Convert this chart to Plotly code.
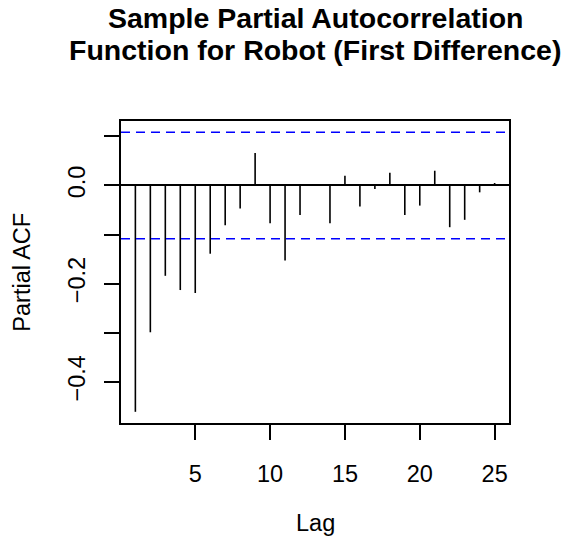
import plotly.graph_objects as go

# Data
lags = list(range(1, 26))
pacf = [-0.461, -0.299, -0.184, -0.213, -0.219, -0.139, -0.081, -0.047, 0.066, -0.077,
        -0.153, -0.060, 0.002, -0.077, 0.020, -0.043, -0.007, 0.026, -0.060, -0.041,
        0.030, -0.085, -0.070, -0.014, 0.005]
clim = 0.1085
x_ticks = [5, 10, 15, 20, 25]
y_ticks = [-0.4, -0.3, -0.2, -0.1, 0.0, 0.1]
y_ticktext = ["\u22120.4", "", "\u22120.2", "", "0.0", ""]
title_lines = ["Sample Partial Autocorrelation", "Function for Robot (First Difference)"]
x_label = "Lag"
y_label = "Partial ACF"

FONT = "Liberation Sans, Arial, Helvetica, sans-serif"
FS = 23.5

# vertical "h"-type spikes
xs, ys = [], []
for l, v in zip(lags, pacf):
    xs += [l, l, None]
    ys += [0, v, None]

fig = go.Figure()
fig.add_trace(go.Scatter(x=xs, y=ys, mode="lines",
                         line=dict(color="black", width=1.6),
                         hoverinfo="skip", showlegend=False))

for c in (clim, -clim):
    fig.add_shape(type="line", xref="paper", x0=0, x1=1, yref="y", y0=c, y1=c,
                  line=dict(color="#0000FF", width=1.6, dash="9px,6px"))

xmin, xmax = min(lags), max(lags)
xpad = 0.04 * (xmax - xmin)
ylo = min(min(pacf), -clim)
yhi = max(max(pacf), clim)
ypad = 0.04 * (yhi - ylo)

fig.update_layout(
    width=564, height=541,
    margin=dict(l=121, r=55, t=121, b=118, pad=0),
    paper_bgcolor="white", plot_bgcolor="white",
    font=dict(family=FONT, size=FS, color="black"),
    showlegend=False,
    xaxis=dict(range=[xmin - xpad, xmax + xpad], tickvals=x_ticks,
               ticks="outside", ticklen=15, tickwidth=1.5, tickcolor="black",
               showline=True, linecolor="black", linewidth=1.6, mirror=True,
               showgrid=False, zeroline=False,
               tickfont=dict(family=FONT, size=FS, color="black"),
               ticklabelstandoff=14),
    yaxis=dict(range=[ylo - ypad, yhi + ypad], tickvals=y_ticks, ticktext=y_ticktext,
               tickangle=-90,
               ticks="outside", ticklen=15, tickwidth=1.5, tickcolor="black",
               showline=True, linecolor="black", linewidth=1.6, mirror=True,
               showgrid=False, zeroline=True, zerolinecolor="black", zerolinewidth=1.5,
               tickfont=dict(family=FONT, size=FS, color="black"),
               ticklabelstandoff=10),
)

# Title (two bold lines)
fig.add_annotation(text="<b>" + title_lines[0] + "</b>", xref="paper", yref="paper",
                   x=0.5, y=1.340, xanchor="center", yanchor="middle", showarrow=False,
                   font=dict(family=FONT, size=28.5, color="black"))
fig.add_annotation(text="<b>" + title_lines[1] + "</b>", xref="paper", yref="paper",
                   x=0.5, y=1.234, xanchor="center", yanchor="middle", showarrow=False,
                   font=dict(family=FONT, size=28.5, color="black"))
# Axis titles
fig.add_annotation(text=x_label, xref="paper", yref="paper", x=0.5, y=-0.331,
                   xanchor="center", yanchor="middle", showarrow=False,
                   font=dict(family=FONT, size=FS, color="black"))
fig.add_annotation(text=y_label, xref="paper", yref="paper", x=-0.256, y=0.5,
                   xanchor="center", yanchor="middle", showarrow=False, textangle=-90,
                   font=dict(family=FONT, size=FS, color="black"))

fig.write_html("out.html")
